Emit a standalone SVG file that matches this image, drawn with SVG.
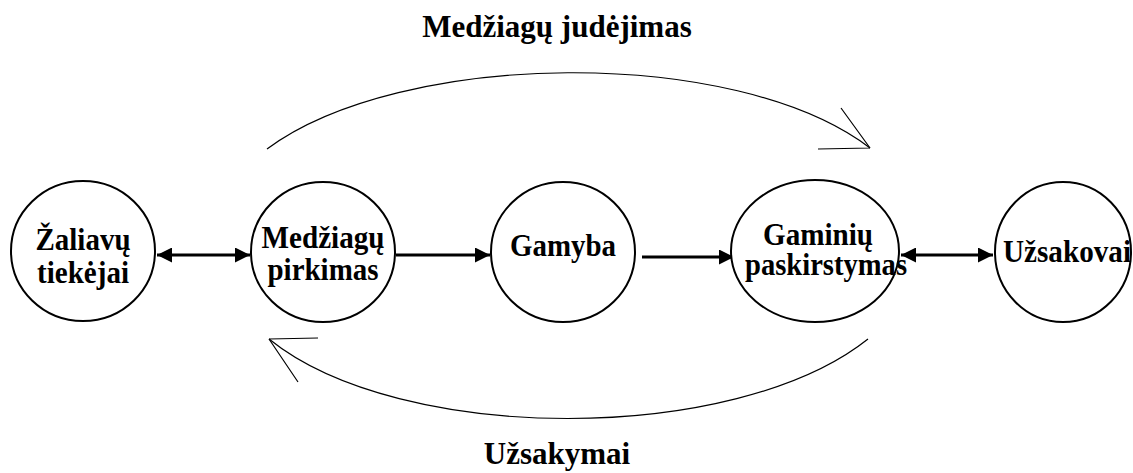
<svg xmlns="http://www.w3.org/2000/svg" width="1133" height="473" viewBox="0 0 1133 473">
<style>
.node{fill:#fff;stroke:#000;stroke-width:2}
.t{font-family:'Liberation Serif','DejaVu Serif',serif;font-weight:700;font-size:32px;fill:#000;text-anchor:middle}
.title{font-family:'Liberation Serif','DejaVu Serif',serif;font-weight:700;font-size:31px;fill:#000;text-anchor:middle}
.c{stroke:#000;stroke-width:3;fill:none}
.arc{stroke:#000;stroke-width:1.2;fill:none}
</style>
<defs>
<marker id="ah" viewBox="0 0 10 10" refX="10" refY="5" markerWidth="5.5" markerHeight="5" orient="auto-start-reverse" markerUnits="strokeWidth">
<path d="M0,0 L10,5 L0,10 Z" fill="#000"/>
</marker>
</defs>
<rect width="1133" height="473" fill="#fff"/>
<g id="connectors">
<line class="c" x1="157" y1="255" x2="250" y2="255" marker-start="url(#ah)" marker-end="url(#ah)"/>
<line class="c" x1="396" y1="255" x2="490" y2="255" marker-end="url(#ah)"/>
<line class="c" x1="642" y1="257" x2="734" y2="257" marker-end="url(#ah)"/>
<line class="c" x1="901" y1="255" x2="993" y2="255" marker-start="url(#ah)" marker-end="url(#ah)"/>
<path class="arc" d="M267,149 C400,50 735,45 870,148"/>
<path class="arc" d="M870,148 L841,108 M870,148 L818,149"/>
<path class="arc" d="M868,339 C735,445 400,445 269,339"/>
<path class="arc" d="M269,339 L318,338 M269,339 L298,382"/>
</g>
<g id="zaliavu"><ellipse class="node" cx="83" cy="251" rx="72" ry="70"/>
<text class="t" x="83" y="250" textLength="95" lengthAdjust="spacingAndGlyphs">Žaliavų</text><text class="t" x="83" y="283" textLength="92" lengthAdjust="spacingAndGlyphs">tiekėjai</text></g>
<g id="medziagu"><ellipse class="node" cx="323" cy="252" rx="72" ry="70"/>
<text class="t" x="323" y="248" textLength="123" lengthAdjust="spacingAndGlyphs">Medžiagų</text><text class="t" x="323" y="280" textLength="111" lengthAdjust="spacingAndGlyphs">pirkimas</text></g>
<g id="gamyba"><ellipse class="node" cx="563" cy="252" rx="72" ry="70"/>
<text class="t" x="563" y="256" textLength="106" lengthAdjust="spacingAndGlyphs">Gamyba</text></g>
<g id="gaminiu"><ellipse class="node" cx="815" cy="251" rx="84" ry="71"/>
<text class="t" x="818" y="245" textLength="110" lengthAdjust="spacingAndGlyphs">Gaminių</text><text class="t" x="826" y="275" textLength="162" lengthAdjust="spacingAndGlyphs">paskirstymas</text></g>
<g id="uzsakovai"><ellipse class="node" cx="1063" cy="252" rx="68" ry="70"/>
<text class="t" x="1067" y="262" textLength="128" lengthAdjust="spacingAndGlyphs">Užsakovai</text></g>
<text class="title" x="557" y="37">Medžiagų judėjimas</text>
<text class="title" x="557" y="464">Užsakymai</text>
</svg>
